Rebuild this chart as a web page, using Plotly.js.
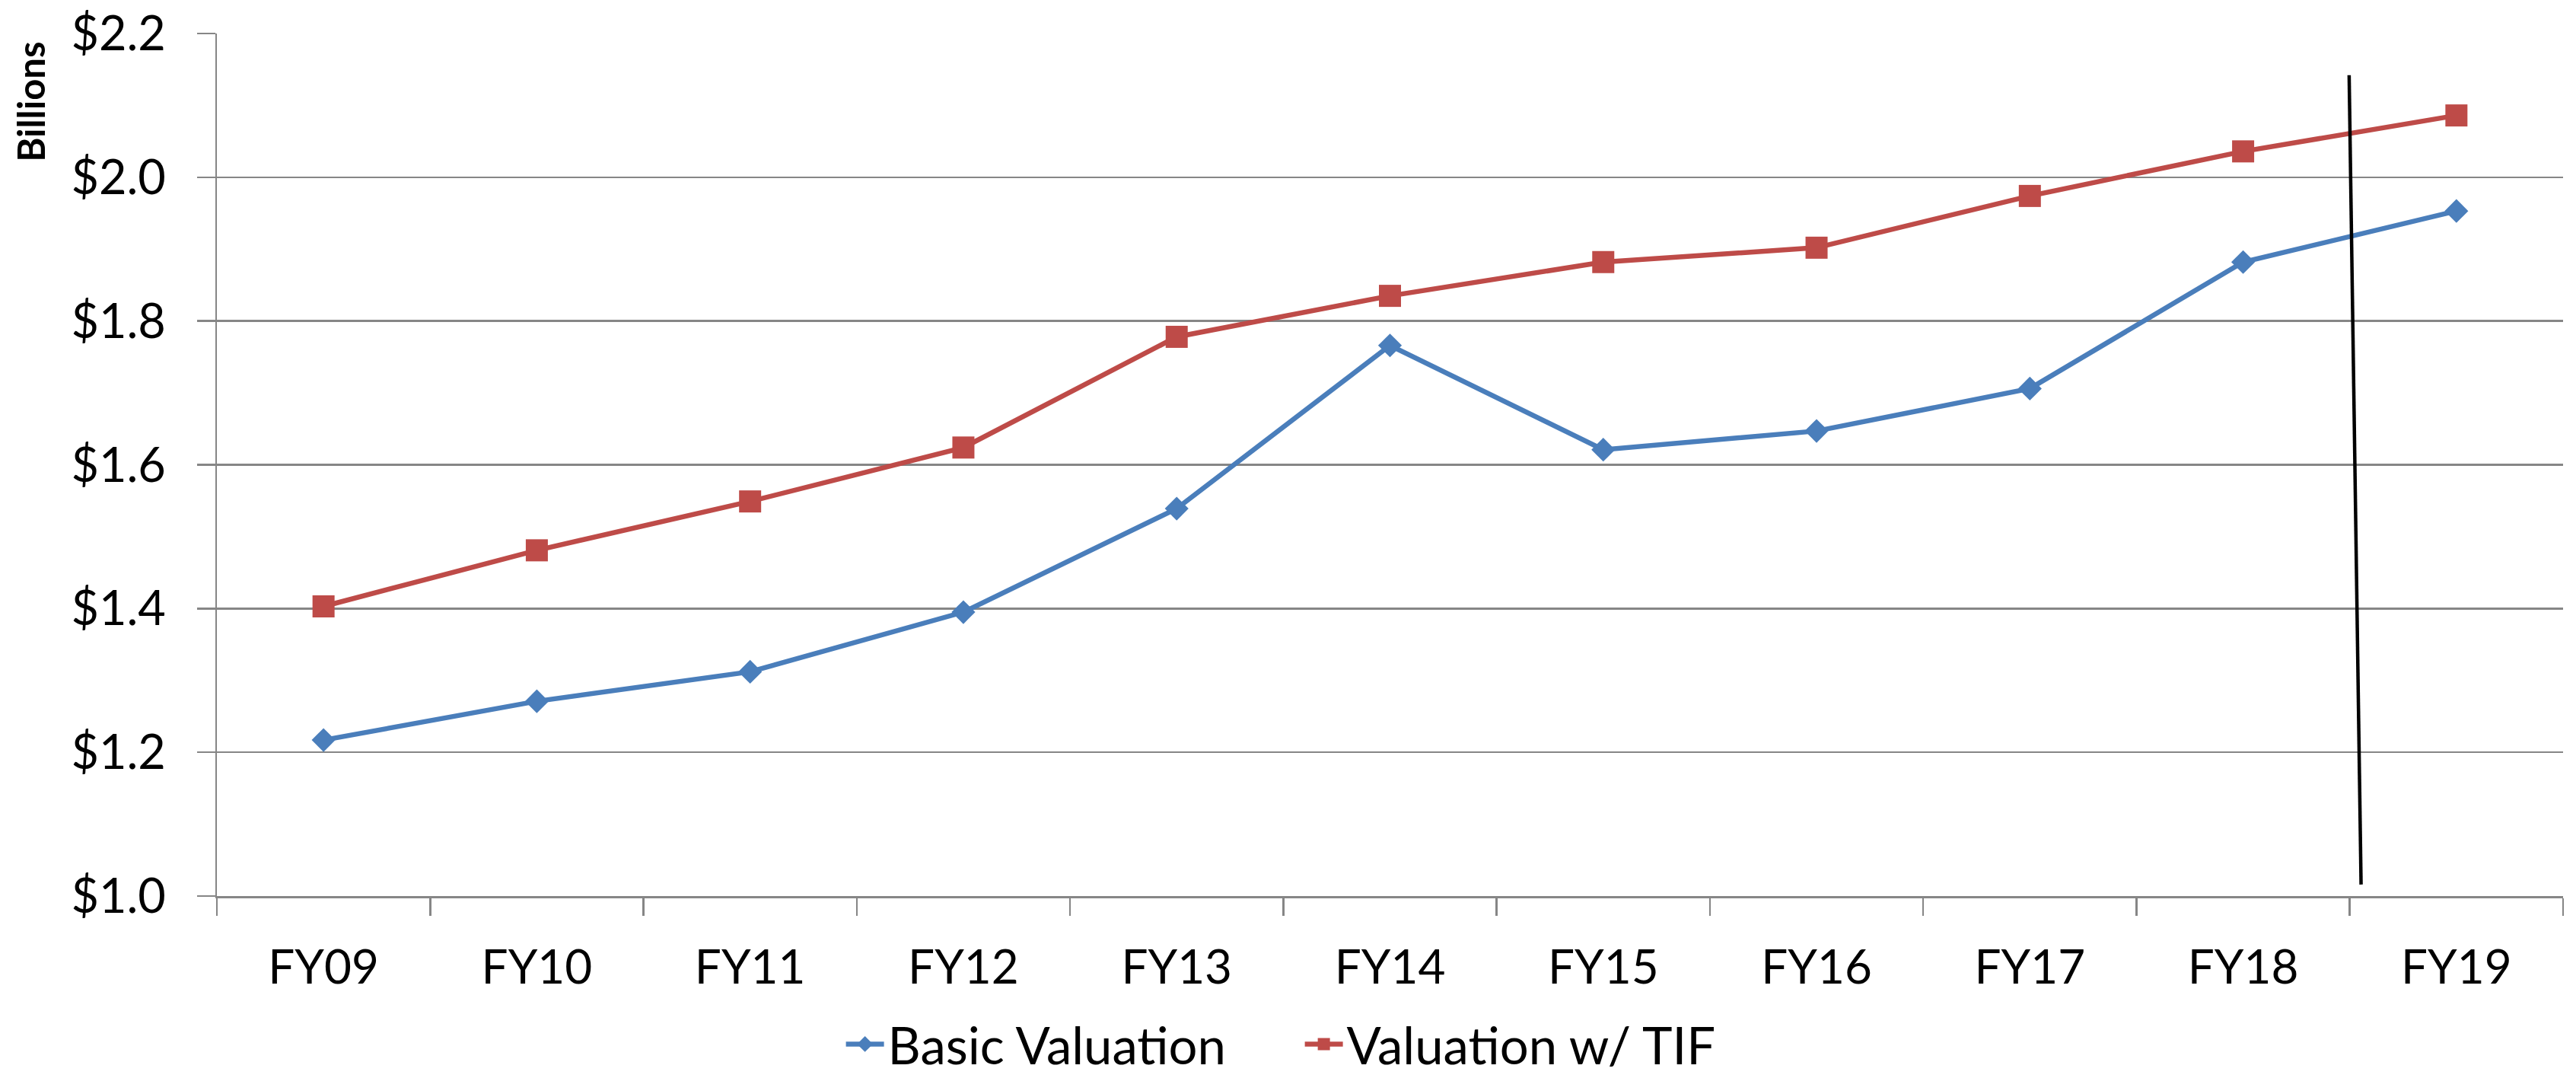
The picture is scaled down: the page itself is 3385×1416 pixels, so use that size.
<!DOCTYPE html>
<html>
<head>
<meta charset="utf-8">
<script src="https://cdn.plot.ly/plotly-3.0.1.min.js"></script>
<style>html,body{margin:0;padding:0;background:#fff;}#chart{width:3385px;height:1416px;}</style>
</head>
<body>
<div id="chart"></div>
<script>
const categories = ["FY09","FY10","FY11","FY12","FY13","FY14","FY15","FY16","FY17","FY18","FY19"];
const basicValuation = [1.217, 1.271, 1.312, 1.395, 1.539, 1.766, 1.621, 1.647, 1.706, 1.882, 1.953];
const valuationTIF = [1.403, 1.481, 1.549, 1.624, 1.778, 1.835, 1.882, 1.902, 1.974, 2.036, 2.086];
const seriesNames = ["Basic Valuation", "Valuation w/ TIF"];
const yTicks = [1.0, 1.2, 1.4, 1.6, 1.8, 2.0, 2.2];
const yTickLabels = ["$1.0", "$1.2", "$1.4", "$1.6", "$1.8", "$2.0", "$2.2"];

const FONT = "Lato, 'Open Sans', sans-serif";
const traces = [
  {
    x: categories, y: basicValuation, name: seriesNames[0], type: "scatter", mode: "lines+markers",
    line: {color: "#4A7EBB", width: 6.5},
    marker: {symbol: "diamond", size: 24, color: "#4A7EBB"}
  },
  {
    x: categories, y: valuationTIF, name: seriesNames[1], type: "scatter", mode: "lines+markers",
    line: {color: "#BE4B48", width: 6.5},
    marker: {symbol: "square", size: 29, color: "#BE4B48"}
  }
];

const layout = {
  width: 3385, height: 1416,
  margin: {l: 285, r: 17, t: 44, b: 239, pad: 0, autoexpand: false},
  paper_bgcolor: "#ffffff", plot_bgcolor: "#ffffff",
  font: {family: FONT, size: 60, color: "#000"},
  showlegend: true,
  legend: {orientation: "h", x: 0.2665, xanchor: "left", y: -0.172, yanchor: "middle",
           font: {family: FONT, size: 67, color: "#000"}, itemwidth: 50,
           entrywidth: 538, entrywidthmode: "pixels"},
  xaxis: {
    type: "category", range: [-0.5, 10.5], tickson: "boundaries", automargin: false,
    showline: true, linecolor: "#868686", linewidth: 2.5,
    ticks: "outside", ticklen: 23, tickwidth: 2.5, tickcolor: "#868686",
    showgrid: false, zeroline: false,
    tickfont: {family: FONT, size: 62, color: "#000"}, ticklabelstandoff: 38
  },
  yaxis: {
    range: [1.0, 2.2], tickmode: "array", tickvals: yTicks, ticktext: yTickLabels, automargin: false,
    showline: true, linecolor: "#868686", linewidth: 2.5,
    ticks: "outside", ticklen: 24, tickwidth: 2.5, tickcolor: "#868686",
    showgrid: true, gridcolor: "#868686", gridwidth: 2.5, zeroline: false,
    tickfont: {family: FONT, size: 63, color: "#000"}, ticklabelstandoff: 28
  },
  shapes: [
    {type: "line", xref: "x", yref: "y", x0: 9.497, y0: 2.142, x1: 9.553, y1: 1.016,
     line: {color: "#000", width: 4.5}}
  ],
  annotations: [
    {text: "<b>Billions</b>", xref: "paper", yref: "paper", x: -0.0795, y: 0.9206,
     xanchor: "center", yanchor: "middle", textangle: -90, showarrow: false,
     font: {family: FONT, size: 49, color: "#000"}}
  ]
};

Plotly.newPlot("chart", traces, layout, {displayModeBar: false, staticPlot: true});
</script>
</body>
</html>
